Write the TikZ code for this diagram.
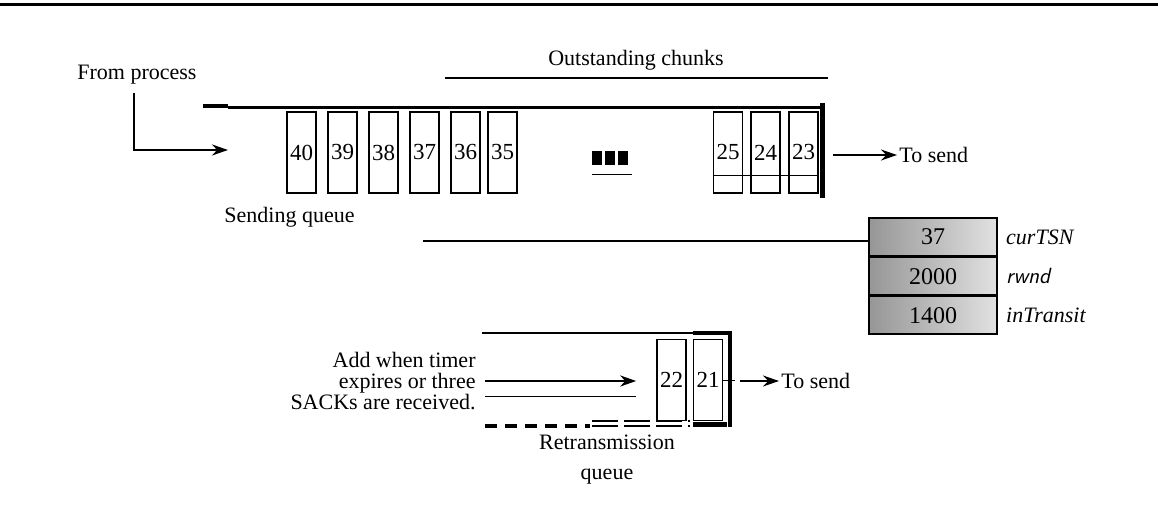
\documentclass[tikz,border=0pt]{standalone}
\usepackage{fontspec}
\setmainfont{Liberation Serif}
\usetikzlibrary{arrows.meta, positioning}
\definecolor{shadedark}{RGB}{150,150,150}
\definecolor{shadelight}{RGB}{225,225,225}

\begin{document}
\begin{tikzpicture}[x=0.5pt, y=-0.5pt,
    chunk/.style={rectangle, draw, thick, minimum width=14.5pt, minimum height=40.5pt, inner sep=0pt, font=\fontsize{11.5}{12}\selectfont},
    varbox/.style={rectangle, draw, thick, minimum width=64pt, minimum height=18.8pt, inner sep=0pt, left color=shadedark, right color=shadelight, font=\fontsize{12}{13}\selectfont},
    lbl/.style={font=\fontsize{11}{10.5}\selectfont, inner sep=1pt},
    arr/.style={-{Stealth[length=8pt, width=5.5pt]}, thick},
    qline/.style={line width=1.6pt}
  ]
  \useasboundingbox (0,0) rectangle (1158,518);
  \draw[line width=1.5pt] (0,5) -- (1158,5);

  % sending queue
  \node[lbl] (outst) at (636,60) {Outstanding chunks};
  \draw[thick] (445,78) -- (828,78);
  \node[lbl, anchor=west] (proc) at (75,75) {From process};
  \draw[qline] (203,106) -- (228,106);
  \draw[qline] (228,107.5) -- (822,107.5);
  \draw[line width=2.5pt] (822,103) -- (822,198);
  \coordinate (inq) at (228,150);
  \draw[arr, line width=1.3pt] (134,93) |- (inq);
  \foreach \n/\x in {40/301.5, 39/342.5, 38/383.5, 37/424.5, 36/465.5, 35/502.5, 25/728, 24/765.5, 23/803.5}
    \node[chunk] (c\n) at (\x,152.5) {\n};
  \draw (c25.west |- 0,175) -- (c23.east |- 0,175);
  \foreach \x in {592,605,618}
    \fill (\x,151) rectangle ++(10,14);
  \draw (592,174) -- (632,174);
  \node[lbl, anchor=west] (send1) at (897,155) {To send};
  \coordinate (out1) at (833,155);
  \draw[arr] (out1) -- (send1.west);
  \node[lbl, anchor=west] (sq) at (222,217) {Sending queue};

  % variables
  \node[varbox] (curtsn) at (933,237) {37};
  \node[varbox, below=0pt of curtsn] (rwnd) {2000};
  \node[varbox, below=0pt of rwnd] (intransit) {1400};
  \node[lbl, right=3pt of curtsn] (lcur) {\itshape curTSN};
  \node[lbl, right=3pt of rwnd] (lrwnd) {\sffamily\itshape rwnd};
  \node[lbl, right=3pt of intransit] (lin) {\itshape inTransit};
  \coordinate (cur0) at (423,241);
  \draw[thick] (cur0) -- (cur0 -| curtsn.west);

  % retransmission queue
  \node[chunk] (c22) at (671.5,380) {22};
  \node[chunk] (c21) at (708,380) {21};
  \draw[thick] (482,333) -- (730,333);
  \draw[line width=2pt] (693,333) -- (730,333) -- (730,427);
  \draw[qline, dash pattern=on 6pt off 4pt] (485,426) -- (590,426);
  \draw[thick, dash pattern=on 13pt off 3pt] (592,421) -- (690,421);
  \draw[thick, dash pattern=on 13pt off 3pt] (592,426) -- (690,426);
  \draw[line width=2.5pt] (693,425) -- (727,425);
  \coordinate (addin) at (485,381);
  \draw[arr, line width=1.3pt, shorten >=10pt] (addin) -- (addin -| c22.west);
  \draw (485,396) -- (636,396);
  \draw (c21.east) -- ++(6pt,0);
  \node[lbl, align=right, anchor=east] (addtxt) at (478,381) {Add when timer\\expires or three\\SACKs are received.};
  \node[lbl, anchor=west] (send2) at (779,381) {To send};
  \coordinate (out2) at (740,381);
  \draw[arr] (out2) -- (send2.west);
  \node[lbl, align=center, font=\fontsize{11}{15}\selectfont] (rq) at (607,460) {Retransmission\\queue};
\end{tikzpicture}
\end{document}
